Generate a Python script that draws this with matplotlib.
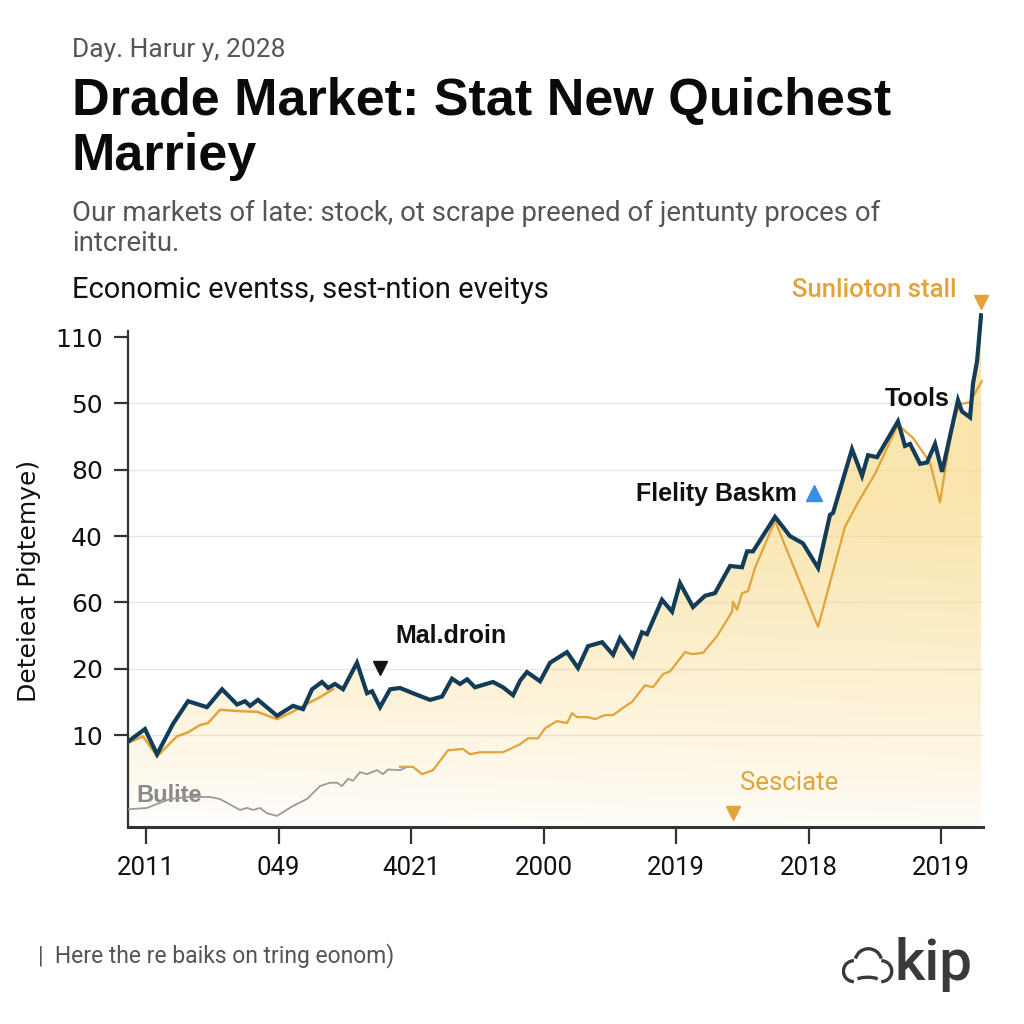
import numpy as np
import matplotlib
matplotlib.use("Agg")
import matplotlib.pyplot as plt
from matplotlib.patches import Arc

# ---------------------------------------------------------------- data
# x in tick units (0..6), y in axis units (ticks at 10..70)
xtick_labels = ["2011", "049", "4021", "2000", "2019", "2018", "2019"]
ytick_pos = [10, 20, 30, 40, 50, 60, 70]
ytick_labels = ["10", "20", "60", "40", "80", "50", "110"]

blue_x = [-0.136, -0.008, 0.083, 0.204, 0.317, 0.460, 0.574, 0.687, 0.747, 0.785,
          0.845, 0.989, 1.109, 1.185, 1.253, 1.328, 1.374, 1.426, 1.487, 1.592,
          1.668, 1.706, 1.766, 1.842, 1.917, 2.015, 2.143, 2.234, 2.309, 2.370,
          2.423, 2.483, 2.619, 2.694, 2.770, 2.823, 2.875, 2.974, 3.049, 3.177,
          3.260, 3.336, 3.442, 3.525, 3.577, 3.675, 3.743, 3.781, 3.894, 3.970,
          4.030, 4.128, 4.219, 4.294, 4.408, 4.498, 4.536, 4.581, 4.747, 4.860,
          4.958, 5.072, 5.162, 5.185, 5.328, 5.404, 5.449, 5.517, 5.675, 5.728,
          5.766, 5.842, 5.894, 5.955, 6.008, 6.068, 6.128, 6.158, 6.219, 6.242,
          6.272, 6.302]
blue_y = [9.0, 10.9, 7.1, 11.7, 15.1, 14.2, 16.9, 14.6, 15.1, 14.4,
          15.3, 12.9, 14.4, 13.9, 16.9, 18.0, 17.1, 17.7, 16.9, 20.9,
          16.3, 16.6, 14.2, 16.9, 17.1, 16.3, 15.3, 15.8, 18.5, 17.7,
          18.4, 17.2, 18.0, 17.2, 16.0, 18.2, 19.5, 18.1, 20.9, 22.5,
          20.1, 23.4, 24.0, 22.1, 24.6, 21.9, 25.5, 25.2, 30.4, 28.6,
          32.9, 29.3, 31.0, 31.4, 35.5, 35.3, 37.7, 37.7, 42.9, 40.0,
          38.9, 35.2, 43.2, 43.5, 53.1, 49.1, 52.2, 51.9, 57.3, 53.6,
          53.9, 50.9, 51.1, 53.9, 49.7, 55.1, 60.5, 58.8, 57.9, 63.1,
          66.4, 73.3]

orange_a_x = [-0.136, -0.023, 0.083, 0.234, 0.317, 0.408, 0.468, 0.558, 0.709,
              0.838, 0.989, 1.087, 1.215, 1.313, 1.411]
orange_a_y = [8.8, 9.8, 6.8, 9.8, 10.4, 11.5, 11.8, 13.8, 13.6,
              13.5, 12.4, 13.3, 14.7, 15.7, 16.9]

orange_b_x = [1.917, 2.015, 2.083, 2.166, 2.279, 2.392, 2.445, 2.521, 2.694, 2.823,
              2.883, 2.958, 3.011, 3.102, 3.177, 3.215, 3.253, 3.336, 3.389, 3.464,
              3.525, 3.600, 3.668, 3.766, 3.826, 3.902, 3.955, 4.068, 4.121, 4.204,
              4.309, 4.423, 4.430, 4.460, 4.498, 4.543, 4.596, 4.747, 5.072, 5.275,
              5.374, 5.502, 5.675, 5.789, 5.917, 5.992, 6.091, 6.143, 6.219, 6.309]
orange_b_y = [5.2, 5.2, 4.1, 4.7, 7.7, 7.9, 7.1, 7.4, 7.4, 8.6,
              9.5, 9.5, 11.0, 12.1, 11.8, 13.3, 12.7, 12.7, 12.4, 13.0,
              13.0, 14.1, 15.0, 17.5, 17.2, 19.2, 19.6, 22.5, 22.2, 22.4,
              24.9, 28.6, 30.1, 28.9, 31.4, 31.7, 35.2, 42.3, 26.3, 41.4,
              45.1, 49.4, 56.8, 54.8, 51.1, 45.1, 57.3, 59.9, 60.2, 63.4]

gray_x = [-0.136, 0.008, 0.083, 0.181, 0.309, 0.483, 0.558, 0.709, 0.762, 0.808,
          0.860, 0.913, 0.989, 1.109, 1.215, 1.313, 1.389, 1.442, 1.479, 1.525,
          1.562, 1.615, 1.668, 1.743, 1.789, 1.826, 1.917, 1.970]
gray_y = [-1.2, -1.0, -0.4, 0.35, 0.65, 0.65, 0.35, -1.3, -1.0, -1.3,
          -1.0, -1.8, -2.2, -0.7, 0.35, 2.3, 2.8, 2.8, 2.3, 3.4,
          3.1, 4.4, 4.1, 4.7, 4.1, 4.8, 4.7, 5.2]

BLUE = "#123c58"
ORANGE = "#e2a33a"
GRAY = "#9a9a9a"
XMIN, XMAX = -0.136, 6.317
YMIN, YMAX = -3.87, 75.0

# ---------------------------------------------------------------- figure
fig = plt.figure(figsize=(10.24, 10.24), dpi=100)
fig.patch.set_facecolor("white")
ax = fig.add_axes([0.125, 0.1924, 0.835, 0.5107])
ax.set_xlim(XMIN, XMAX)
ax.set_ylim(YMIN, YMAX)

# gradient fill under the blue line
fill = ax.fill_between(blue_x, blue_y, YMIN, facecolor="none", edgecolor="none")
gx = np.linspace(XMIN, XMAX, 200)
gy = np.linspace(YMIN, YMAX, 300)
GX, GY = np.meshgrid(gx, gy)
t = np.clip((GY - YMIN) / 50.0, 0, 1) ** 0.8
alpha = np.clip(0.58 * t + 0.06 * (GX - XMIN) / (XMAX - XMIN), 0, 0.72)
img = np.zeros(GX.shape + (4,))
img[..., 0] = 0.97
img[..., 1] = 0.84
img[..., 2] = 0.50
img[..., 3] = alpha
im = ax.imshow(img, extent=[XMIN, XMAX, YMIN, YMAX], origin="lower",
               aspect="auto", interpolation="bilinear", zorder=1)
im.set_clip_path(fill.get_paths()[0], transform=ax.transData)

for yv in ytick_pos[:-1]:
    ax.axhline(yv, color="#e6e6e6", lw=1.0, zorder=0.5)

ax.plot(gray_x, gray_y, color=GRAY, lw=1.3, zorder=3)
ax.plot(orange_a_x, orange_a_y, color=ORANGE, lw=1.8, zorder=3)
ax.plot(orange_b_x, orange_b_y, color=ORANGE, lw=1.6, zorder=3)
ax.plot(blue_x, blue_y, color=BLUE, lw=3.0, zorder=4, solid_joinstyle="miter")

# axes styling
for s in ["top", "right"]:
    ax.spines[s].set_visible(False)
ax.spines["left"].set_color("#333333")
ax.spines["left"].set_linewidth(1.6)
ax.spines["left"].set_bounds(YMIN, 71.0)
ax.spines["bottom"].set_color("#333333")
ax.spines["bottom"].set_linewidth(2.2)
ax.set_xticks(range(7))
ax.set_xticklabels(xtick_labels, fontsize=18.5, family="Roboto", color="#111111")
ax.set_yticks(ytick_pos)
ax.set_yticklabels(ytick_labels, fontsize=18, color="#111111")
ax.tick_params(axis="x", length=12, width=1.6, color="#333333", pad=9)
ax.tick_params(axis="y", length=10, width=1.6, color="#333333", pad=8)

# annotations
ax.text(4.875, 77.1, "Sunlioton stall", fontsize=18.5, color=ORANGE, ha="left",
        va="center", family="Roboto", fontweight="medium", clip_on=False)
ax.plot([6.302], [75.3], marker="v", color=ORANGE, ms=10, zorder=5, clip_on=False)
ax.text(5.577, 60.7, "Tools", fontsize=18, color="#111111", ha="left",
        va="center", family="Liberation Sans", fontweight="bold")
ax.text(3.698, 46.3, "Flelity Baskm", fontsize=18, color="#111111", ha="left",
        va="center", family="Liberation Sans", fontweight="bold")
ax.plot([5.042], [46.5], marker="^", color="#3a8ee0", ms=11, zorder=5)
ax.text(1.879, 24.9, "Mal.droin", fontsize=18, color="#111111", ha="left",
        va="center", family="Liberation Sans", fontweight="bold")
ax.plot([1.766], [20.1], marker="v", color="#111111", ms=10, zorder=5)
ax.text(-0.075, 0.95, "Bulite", fontsize=17, color="#8a8a8a", ha="left",
        va="center", family="Liberation Sans", fontweight="bold", zorder=2)
ax.text(4.483, 2.76, "Sesciate", fontsize=18.5, color=ORANGE, ha="left",
        va="center", family="Roboto")
ax.plot([4.43], [-1.76], marker="v", color=ORANGE, ms=10, zorder=5)

# y label
fig.text(0.028, 0.433, "Deteieat Pigtemye)", rotation=90, fontsize=18,
         ha="center", va="center", color="#111111")

# header texts
fig.text(0.070, 0.951, "Day. Harur y, 2028", fontsize=19, color="#555555",
         ha="left", va="center", family="Roboto")
fig.text(0.070, 0.901, "Drade Market: Stat New Quichest", fontsize=37.5,
         color="#0a0a0a", ha="left", va="center", family="Liberation Sans",
         fontweight="bold")
fig.text(0.070, 0.847, "Marriey", fontsize=37.5, color="#0a0a0a", ha="left",
         va="center", family="Liberation Sans", fontweight="bold")
fig.text(0.070, 0.792, "Our markets of late: stock, ot scrape preened of jentunty proces of",
         fontsize=19.8, color="#555555", ha="left", va="center", family="Roboto")
fig.text(0.070, 0.762, "intcreitu.", fontsize=19.8, color="#555555", ha="left",
         va="center", family="Roboto")
fig.text(0.070, 0.717, "Economic eventss, sest-ntion eveitys", fontsize=21,
         color="#111111", ha="left", va="center", family="Roboto")

# footer
fig.text(0.037, 0.067, "|  Here the re baiks on tring eonom)", fontsize=16.5,
         color="#555555", ha="left", va="center", family="Roboto")
fig.text(0.874, 0.058, "kip", fontsize=42, color="#3a3a3a", ha="left",
         va="center", family="Roboto", fontweight="medium")
lax = fig.add_axes([0.822, 0.038, 0.052, 0.045])
lax.set_xlim(0, 1.4)
lax.set_ylim(0, 1.2)
lax.set_aspect("equal")
lax.axis("off")
lw_logo = 2.4
lax.add_patch(Arc((0.32, 0.36), 0.55, 0.55, theta1=90, theta2=270, color="#3a3a3a", lw=lw_logo))
lax.add_patch(Arc((0.70, 0.60), 0.70, 0.70, theta1=15, theta2=165, color="#3a3a3a", lw=lw_logo))
lax.add_patch(Arc((1.04, 0.36), 0.55, 0.55, theta1=-90, theta2=90, color="#3a3a3a", lw=lw_logo))
lax.add_patch(Arc((0.68, 0.06), 0.74, 0.28, theta1=20, theta2=160, color="#3a3a3a", lw=lw_logo))

fig.savefig("out.png", dpi=100, facecolor="white")
